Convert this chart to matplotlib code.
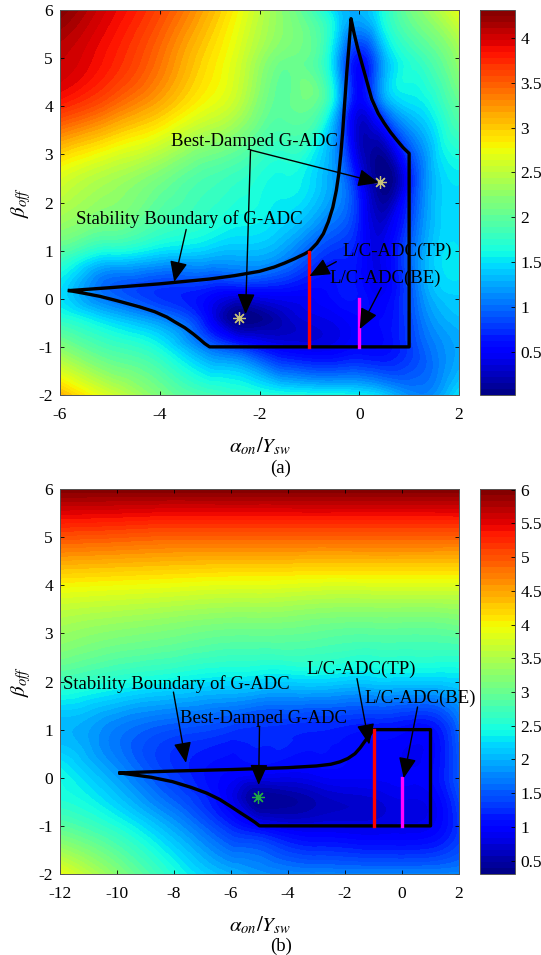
import numpy as np
import matplotlib
matplotlib.use('Agg')
import matplotlib.pyplot as plt
import matplotlib.tri as mtri
from matplotlib.ticker import FormatStrFormatter

plt.rcParams['font.family'] = ['Liberation Serif', 'DejaVu Serif']
plt.rcParams['mathtext.fontset'] = 'stix'
plt.rcParams['axes.unicode_minus'] = False

# ---------------- panel (a) data ----------------
xa = [-6, -5, -4, -3, -2.4, -1.5, -0.5, 0, 0.4, 1.2, 2]
ya = [-2, -1, -0.4, 0.2, 1, 2.4, 4, 5, 6]
za = [
    [3.10, 2.60, 2.15, 1.85, 1.75, 1.65, 1.60, 1.55, 1.45, 1.10, 1.50],  # y=-2
    [2.20, 1.85, 1.60, 1.00, 0.75, 0.45, 0.45, 0.55, 0.55, 0.90, 1.25],  # y=-1
    [1.70, 1.40, 1.10, 0.50, 0.03, 0.25, 0.45, 0.55, 0.55, 1.00, 1.35],  # y=-0.4
    [1.50, 0.95, 0.75, 0.65, 0.60, 0.60, 0.60, 0.60, 0.45, 1.10, 1.45],  # y=0.2
    [1.95, 1.65, 1.50, 1.40, 1.35, 1.20, 0.75, 0.60, 0.40, 1.15, 1.50],  # y=1
    [2.60, 2.35, 2.10, 1.85, 1.75, 1.60, 1.20, 0.55, 0.05, 0.95, 1.50],  # y=2.4
    [3.75, 3.45, 3.10, 2.70, 2.45, 2.00, 1.45, 0.45, 0.90, 1.50, 2.00],  # y=4
    [4.05, 3.80, 3.40, 2.90, 2.60, 2.10, 1.40, 0.60, 1.10, 1.80, 2.30],  # y=5
    [4.30, 3.95, 3.60, 3.10, 2.75, 2.20, 1.45, 1.30, 1.55, 2.20, 2.70],  # y=6
]
zmin_a, zmax_a = 0.02, 4.31
cticks_a = [0.5, 1, 1.5, 2, 2.5, 3, 3.5, 4]

# stability boundary of G-ADC (a)
bnd_ax = [-5.81, -5.4, -5.0, -4.5, -4.0, -3.5, -3.0, -2.5, -2.0, -1.7, -1.5, -1.3,
          -1.1, -1.0, -0.85, -0.72, -0.62, -0.53, -0.46, -0.41, -0.37, -0.33, -0.29,
          -0.25, -0.21, -0.18, -0.165,
          -0.1, -0.03, 0.05, 0.13, 0.25, 0.38, 0.5, 0.62, 0.75, 0.88, 1.0,
          1.0, -3.0,
          -3.1, -3.2, -3.33, -3.5, -3.7, -3.86, -4.1, -4.4, -4.86, -5.2, -5.5, -5.81]
bnd_ay = [0.17, 0.20, 0.23, 0.27, 0.31, 0.36, 0.41, 0.48, 0.57, 0.66, 0.74, 0.83,
          0.93, 0.99, 1.15, 1.35, 1.60, 1.90, 2.25, 2.60, 3.0, 3.5, 4.1,
          4.7, 5.2, 5.6, 5.82,
          5.5, 5.2, 4.9, 4.6, 4.15, 3.85, 3.65, 3.47, 3.3, 3.14, 3.02,
          -1.0, -1.0,
          -0.93, -0.84, -0.73, -0.60, -0.48, -0.38, -0.27, -0.17, -0.04, 0.05, 0.11, 0.17]
tp_a = ([-1, -1], [-1, 0.98])
be_a = ([0, 0], [-1, 0])
star_ax = [-2.42, 0.41]
star_ay = [-0.41, 2.43]

# ---------------- panel (b) data ----------------
xb = [-12, -10, -8, -6, -5, -3, -1, 0, 1, 2]
yb = [-2, -1, -0.4, 0.1, 1, 2, 3, 4, 5, 6]
zb = [
    [3.90, 3.20, 2.50, 2.00, 1.85, 1.75, 1.75, 1.75, 1.75, 1.75],  # y=-2
    [2.90, 2.50, 1.90, 1.20, 0.95, 0.80, 0.80, 0.85, 0.90, 1.30],  # y=-1
    [2.50, 2.10, 1.50, 0.85, 0.40, 0.60, 0.75, 0.85, 0.90, 1.40],  # y=-0.4
    [2.40, 1.85, 1.30, 1.00, 0.95, 0.95, 0.95, 0.95, 1.00, 1.50],  # y=0.1
    [2.00, 1.70, 1.45, 1.30, 1.25, 1.20, 1.10, 1.05, 1.05, 1.60],  # y=1
    [2.70, 2.50, 2.35, 2.25, 2.20, 2.20, 2.15, 2.15, 2.15, 2.20],  # y=2
    [3.35, 3.20, 3.10, 3.00, 3.00, 2.95, 2.90, 2.90, 2.90, 2.95],  # y=3
    [4.00, 3.95, 3.90, 3.85, 3.85, 3.80, 3.80, 3.80, 3.80, 3.80],  # y=4
    [5.00, 4.95, 4.90, 4.90, 4.90, 4.90, 4.90, 4.90, 4.90, 4.90],  # y=5
    [6.00, 6.00, 6.00, 6.00, 6.00, 6.00, 6.00, 6.00, 6.00, 6.00],  # y=6
]
zmin_b, zmax_b = 0.30, 6.01
cticks_b = [0.5, 1, 1.5, 2, 2.5, 3, 3.5, 4, 4.5, 5, 5.5, 6]

bnd_bx = [-9.89, -9.0, -8.0, -7.0, -6.0, -5.0, -4.0, -3.0, -2.5, -2.18, -1.9, -1.65,
          -1.47, -1.3, -1.15, -1.0, 1.0, 1.0, -5.0,
          -5.15, -5.35, -5.64, -6.0, -6.4, -6.85, -7.4, -8.06, -8.8, -9.89]
bnd_by = [0.10, 0.12, 0.14, 0.155, 0.17, 0.19, 0.21, 0.245, 0.28, 0.33, 0.40, 0.50,
          0.62, 0.76, 0.88, 1.0, 1.0, -1.0, -1.0,
          -0.93, -0.85, -0.74, -0.60, -0.45, -0.32, -0.20, -0.08, 0.01, 0.10]
tp_b = ([-1, -1], [-1, 1])
be_b = ([0, 0], [-1, 0])
star_bx = [-5.05]
star_by = [-0.39]

W, H = 541, 955
fig = plt.figure(figsize=(W / 100, H / 100), dpi=100)


def px_axes(l, t, r, b):
    return fig.add_axes([l / W, 1 - b / H, (r - l) / W, (b - t) / H])


def arrow(ax, start, tip):
    ax.annotate('', xy=tip, xytext=start,
                arrowprops=dict(arrowstyle='-|>,head_length=0.7,head_width=0.3',
                                color='black', lw=1.0, mutation_scale=18,
                                shrinkA=0, shrinkB=0))


def panel(ax, cax, x, y, z, zmin, zmax, cticks):
    X, Y = np.meshgrid(x, y)
    tri = mtri.Triangulation(X.ravel(), Y.ravel())
    tri_r, z_r = mtri.UniformTriRefiner(tri).refine_field(np.ravel(z), subdiv=4)
    z_r = np.clip(z_r, zmin, zmax)
    lev = np.linspace(zmin, zmax, 65)
    cs = ax.tricontourf(tri_r, z_r, levels=lev, cmap='jet')
    cb = fig.colorbar(cs, cax=cax, ticks=cticks)
    cb.ax.yaxis.set_major_formatter(FormatStrFormatter('%g'))
    cb.ax.tick_params(direction='in', length=3, labelsize=12.5, pad=4, width=0.6)
    cb.outline.set_linewidth(0.7)
    cb.outline.set_edgecolor('#555555')
    ax.set_ylim(-2, 6)
    ax.set_yticks(range(-2, 7))
    ax.tick_params(direction='in', length=3, labelsize=12.5, top=True, right=True, width=0.6)
    ax.tick_params(axis='x', pad=8.5)
    ax.tick_params(axis='y', pad=5)
    for s in ax.spines.values():
        s.set_linewidth(0.7)
        s.set_edgecolor('#555555')
    ax.set_xlabel(r'$\alpha_{on}/Y_{sw}$', fontsize=15, labelpad=9)
    ax.set_ylabel(r'$\beta_{off}$', fontsize=15, labelpad=4)


fs = 13.5

# ---------------- panel (a) ----------------
ax1 = px_axes(60, 10, 459, 395)
cax1 = px_axes(480, 10, 515, 395)
panel(ax1, cax1, xa, ya, za, zmin_a, zmax_a, cticks_a)
ax1.set_xlim(-6, 2)
ax1.set_xticks(range(-6, 3, 2))
ax1.plot(bnd_ax, bnd_ay, color='black', lw=2.4, solid_joinstyle='round')
ax1.plot(*tp_a, color='red', lw=2.4)
ax1.plot(*be_a, color='magenta', lw=2.4)
ax1.plot(star_ax, star_ay, ls='none', marker=(8, 2, 0), ms=9, mew=0.9, color='#c8c27a')

ax1.text(-3.77, 3.26, 'Best-Damped G-ADC', fontsize=fs, va='center')
ax1.text(-5.67, 1.65, 'Stability Boundary of G-ADC', fontsize=fs, va='center')
ax1.text(-0.33, 0.98, 'L/C-ADC(TP)', fontsize=fs, va='center')
ax1.text(-0.59, 0.43, 'L/C-ADC(BE)', fontsize=fs, va='center')
arrow(ax1, (-2.18, 3.09), (-2.28, -0.32))
arrow(ax1, (-2.18, 3.09), (0.39, 2.41))
arrow(ax1, (-3.47, 1.44), (-3.71, 0.35))
arrow(ax1, (-0.46, 0.77), (-1.0, 0.47))
arrow(ax1, (0.44, 0.23), (0.01, -0.63))

# ---------------- panel (b) ----------------
ax2 = px_axes(60, 489, 459, 874)
cax2 = px_axes(480, 489, 515, 874)
panel(ax2, cax2, xb, yb, zb, zmin_b, zmax_b, cticks_b)
ax2.set_xlim(-12, 2)
ax2.set_xticks(range(-12, 3, 2))
ax2.plot(bnd_bx, bnd_by, color='black', lw=2.4, solid_joinstyle='round')
ax2.plot(*tp_b, color='red', lw=2.4)
ax2.plot(*be_b, color='magenta', lw=2.4)
ax2.plot(star_bx, star_by, ls='none', marker=(8, 2, 0), ms=9, mew=0.9, color='#22aa44')

ax2.text(-11.9, 1.95, 'Stability Boundary of G-ADC', fontsize=fs, va='center')
ax2.text(-7.79, 1.24, 'Best-Damped G-ADC', fontsize=fs, va='center')
ax2.text(-3.37, 2.25, 'L/C-ADC(TP)', fontsize=fs, va='center')
ax2.text(-1.30, 1.66, 'L/C-ADC(BE)', fontsize=fs, va='center')
arrow(ax2, (-8.02, 1.78), (-7.58, 0.31))
arrow(ax2, (-5.0, 1.07), (-5.03, -0.15))
arrow(ax2, (-1.58, 2.06), (-1.15, 0.69))
arrow(ax2, (0.545, 1.47), (0.06, -0.01))

fig.text(281 / W, 1 - 468 / H, '(a)', fontsize=13.5, ha='center', va='center')
fig.text(281 / W, 1 - 946 / H, '(b)', fontsize=13.5, ha='center', va='center')

fig.savefig('out.png', dpi=100)
